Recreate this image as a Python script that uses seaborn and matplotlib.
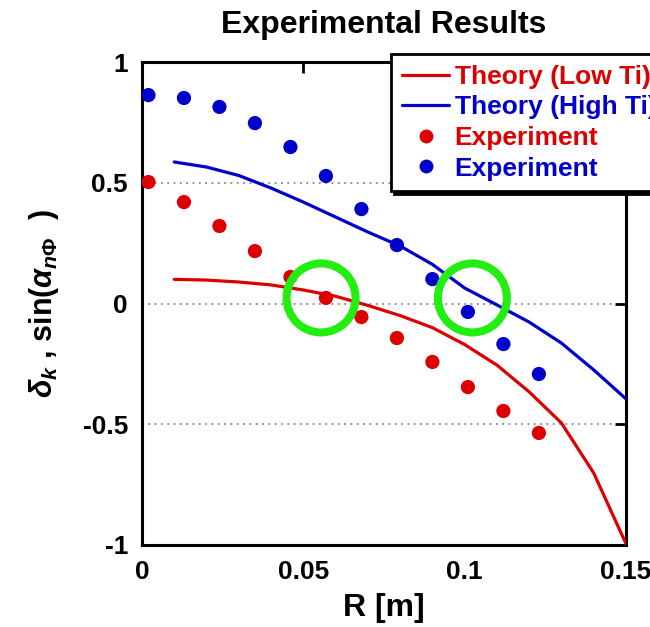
import numpy as np
import pandas as pd
import matplotlib
matplotlib.use("Agg")
import matplotlib.pyplot as plt
import seaborn as sns
from matplotlib.patches import Ellipse
from matplotlib.lines import Line2D

# ---- data ----
r_theory = [0.01, 0.02, 0.03, 0.04, 0.05, 0.06, 0.07, 0.08, 0.09, 0.10, 0.11, 0.12, 0.13, 0.14, 0.15]
theory_low = [0.100, 0.097, 0.089, 0.077, 0.056, 0.030, -0.008, -0.050, -0.100, -0.170, -0.255, -0.366, -0.495, -0.702, -0.995]
theory_high = [0.586, 0.565, 0.530, 0.478, 0.420, 0.358, 0.296, 0.238, 0.162, 0.064, -0.006, -0.077, -0.164, -0.275, -0.395]

r_exp = [0.002, 0.013, 0.024, 0.035, 0.046, 0.057, 0.068, 0.079, 0.090, 0.101, 0.112, 0.123]
exp_low = [0.503, 0.420, 0.321, 0.217, 0.110, 0.023, -0.056, -0.143, -0.242, -0.346, -0.445, -0.536]
exp_high = [0.863, 0.851, 0.814, 0.747, 0.648, 0.528, 0.391, 0.242, 0.101, -0.035, -0.168, -0.292]

circle_centers_x = [0.0555, 0.1024]
circle_centers_y = [0.023, 0.023]

x_ticks = [0, 0.05, 0.1, 0.15]
x_ticklabels = ["0", "0.05", "0.1", "0.15"]
y_ticks = [-1, -0.5, 0, 0.5, 1]
y_ticklabels = ["-1", "-0.5", "0", "0.5", "1"]
grid_levels = [-0.5, 0, 0.5]

RED = "#dd0000"
BLUE = "#0000cc"
GREEN = "#22ee11"

sns.set_style("white")
plt.rcParams["font.family"] = ["Liberation Sans", "DejaVu Sans"]
plt.rcParams["font.weight"] = "bold"
plt.rcParams["text.color"] = "black"
plt.rcParams["axes.labelcolor"] = "black"
plt.rcParams["xtick.color"] = "black"
plt.rcParams["ytick.color"] = "black"
plt.rcParams["mathtext.fontset"] = "custom"
plt.rcParams["mathtext.rm"] = "Liberation Sans:bold"
plt.rcParams["mathtext.it"] = "Liberation Sans:italic:bold"
plt.rcParams["mathtext.bf"] = "Liberation Sans:bold"

fig = plt.figure(figsize=(6.5, 6.27), dpi=100)
ax = fig.add_axes([142 / 650, 82 / 627, 484 / 650, 483 / 627])

df_low = pd.DataFrame({"R": r_theory, "v": theory_low})
df_high = pd.DataFrame({"R": r_theory, "v": theory_high})
dfe_low = pd.DataFrame({"R": r_exp, "v": exp_low})
dfe_high = pd.DataFrame({"R": r_exp, "v": exp_high})

for lv in grid_levels:
    ax.axhline(lv, color="#888888", lw=1.3, ls=(0, (1, 2.5)), zorder=0)

sns.lineplot(data=df_low, x="R", y="v", ax=ax, color=RED, lw=2.3, sort=False, zorder=3)
sns.lineplot(data=df_high, x="R", y="v", ax=ax, color=BLUE, lw=2.3, sort=False, zorder=3)
sns.scatterplot(data=dfe_low, x="R", y="v", ax=ax, color=RED, s=105, edgecolor="none", zorder=4)
sns.scatterplot(data=dfe_high, x="R", y="v", ax=ax, color=BLUE, s=105, edgecolor="none", zorder=4)

for cx, cy in zip(circle_centers_x, circle_centers_y):
    ax.add_patch(Ellipse((cx, cy), width=2 * 34.5 / 3227, height=2 * 34.5 / 241.5,
                         fill=False, edgecolor=GREEN, lw=5.8, zorder=5))

ax.set_xlim(0, 0.15)
ax.set_ylim(-1, 1)
ax.set_xticks(x_ticks)
ax.set_xticklabels(x_ticklabels)
ax.set_yticks(y_ticks)
ax.set_yticklabels(y_ticklabels)
ax.tick_params(direction="in", length=8, width=2, top=True, right=True,
               labelsize=19, pad=11)
ax.tick_params(axis="y", pad=10)
for lab in ax.get_xticklabels() + ax.get_yticklabels():
    lab.set_fontweight("bold")
for sp in ax.spines.values():
    sp.set_linewidth(2.2)
    sp.set_color("black")

ax.set_xlabel("R [m]", fontsize=23, fontweight="bold", labelpad=6)
ax.set_ylabel(r"$\delta_{k}$ , sin($\alpha_{n\Phi}$  )", fontsize=22, fontweight="bold", labelpad=16)
ax.set_title("Experimental Results", fontsize=23, fontweight="bold", pad=21)

handles = [
    Line2D([], [], color=RED, lw=2.3),
    Line2D([], [], color=BLUE, lw=2.3),
    Line2D([], [], color=RED, marker="o", ls="none", markersize=10, markeredgecolor="none"),
    Line2D([], [], color=BLUE, marker="o", ls="none", markersize=10, markeredgecolor="none"),
]
labels = ["Theory (Low Ti)", "Theory (High Ti)", "Experiment", "Experiment"]
leg = fig.legend(handles, labels, loc="upper left", bbox_to_anchor=(391 / 650, 1 - 54 / 627),
                 frameon=True, fancybox=False, shadow={"color": "black", "alpha": 1},
                 prop={"weight": "bold", "size": 19}, handlelength=1.8, handletextpad=0.2,
                 borderpad=0.41, labelspacing=0.25, borderaxespad=0)
leg.get_frame().set_edgecolor("black")
leg.get_frame().set_linewidth(2)
for txt, c in zip(leg.get_texts(), [RED, BLUE, RED, BLUE]):
    txt.set_color(c)

fig.savefig("out.png", dpi=100)
